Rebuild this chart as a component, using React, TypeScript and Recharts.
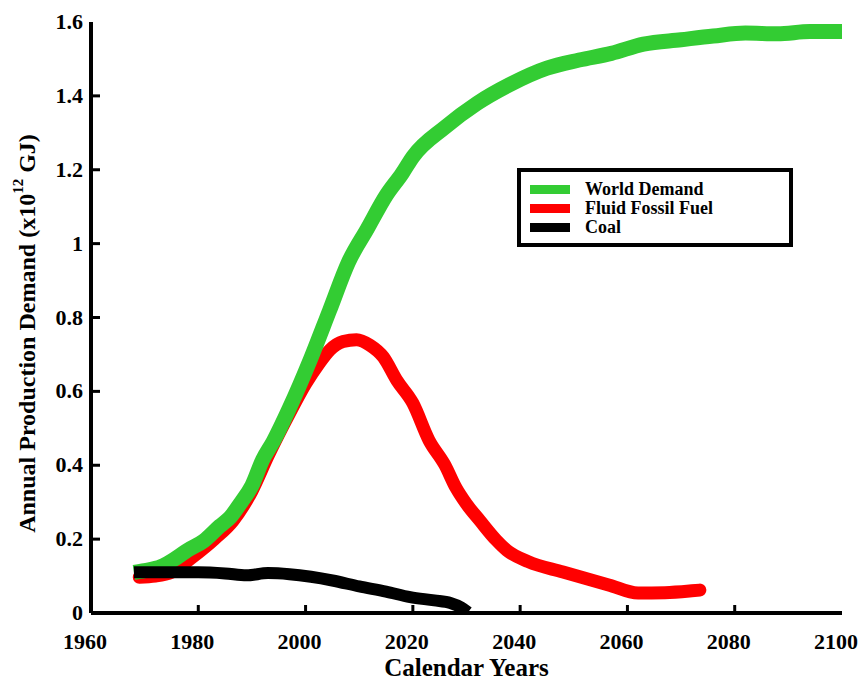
import React from "react";
import { LineChart, Line, XAxis, YAxis, Legend } from "recharts";

const demandYears = [1968, 1970, 1973, 1976, 1978, 1981, 1984, 1986, 1988, 1990, 1992, 1994, 1997, 2001, 2004.5, 2008, 2011.5, 2015, 2018, 2020, 2026, 2032, 2038, 2045, 2051, 2057, 2063, 2070, 2076, 2082, 2088, 2094, 2100];
const demandValues = [0.11, 0.115, 0.125, 0.15, 0.17, 0.195, 0.235, 0.26, 0.3, 0.345, 0.415, 0.465, 0.555, 0.69, 0.82, 0.95, 1.04, 1.13, 1.19, 1.235, 1.315, 1.38, 1.43, 1.475, 1.497, 1.515, 1.54, 1.552, 1.562, 1.57, 1.568, 1.574, 1.574];

const fluidYears = [1969, 1972, 1975, 1979, 1983, 1986.5, 1990, 1993, 1997, 2000, 2002.5, 2004.5, 2007, 2009.5, 2012, 2014.5, 2017, 2020, 2023, 2026, 2028, 2030, 2032.5, 2035.5, 2037.5, 2041.5, 2048, 2056.5, 2062, 2067, 2072, 2073.5];
const fluidValues = [0.097, 0.1, 0.11, 0.152, 0.2, 0.25, 0.33, 0.425, 0.54, 0.62, 0.675, 0.712, 0.735, 0.74, 0.725, 0.693, 0.63, 0.568, 0.468, 0.4, 0.34, 0.295, 0.25, 0.198, 0.17, 0.139, 0.111, 0.076, 0.054, 0.055, 0.06, 0.062];

const coalYears = [1968, 1975, 1980, 1985, 1989, 1993, 1997, 2001, 2005, 2010, 2015, 2019.5, 2024, 2027, 2029, 2030.3];
const coalValues = [0.11, 0.11, 0.11, 0.107, 0.102, 0.108, 0.105, 0.098, 0.088, 0.072, 0.058, 0.043, 0.034, 0.027, 0.015, 0.002];

const xTicks = [1960, 1980, 2000, 2020, 2040, 2060, 2080, 2100];
const yTicks = [0, 0.2, 0.4, 0.6, 0.8, 1, 1.2, 1.4, 1.6];

const seriesNames = ["World Demand", "Fluid Fossil Fuel", "Coal"];
const seriesColors = ["#33cc33", "#ff0000", "#000000"];

const toData = (years: number[], values: number[]) =>
  years.map((year, i) => ({ year, value: values[i] }));

const demandData = toData(demandYears, demandValues);
const fluidData = toData(fluidYears, fluidValues);
const coalData = toData(coalYears, coalValues);

const FONT = "'Liberation Serif', 'Times New Roman', serif";

const BottomTick = (props: any) => {
  const { x, y, payload } = props;
  return (
    <g>
      {payload.value !== 1960 && payload.value !== 2100 && (
        <line x1={x} y1={y} x2={x} y2={y - 8} stroke="#000" strokeWidth={3} />
      )}
      <text x={x - 6} y={y + 36} textAnchor="middle" fontFamily={FONT} fontWeight="bold" fontSize={22} fill="#000">
        {payload.value}
      </text>
    </g>
  );
};

const TopTick = (props: any) => {
  const { x, y, payload } = props;
  if (payload.value === 1960 || payload.value === 2100) return <g />;
  return <line x1={x} y1={y} x2={x} y2={y + 8} stroke="#000" strokeWidth={3} />;
};

const LeftTick = (props: any) => {
  const { x, y, payload } = props;
  return (
    <g>
      {payload.value !== 0 && payload.value !== 1.6 && (
        <line x1={x} y1={y} x2={x + 9} y2={y} stroke="#000" strokeWidth={3} />
      )}
      <text x={x - 8} y={y + 7} textAnchor="end" fontFamily={FONT} fontWeight="bold" fontSize={22} fill="#000">
        {String(payload.value)}
      </text>
    </g>
  );
};

const RightTick = (props: any) => {
  const { x, y, payload } = props;
  if (payload.value === 0 || payload.value === 1.6) return <g />;
  return <line x1={x} y1={y} x2={x - 9} y2={y} stroke="#000" strokeWidth={3} />;
};

const YLabel = (props: any) => {
  const { viewBox } = props;
  const cx = viewBox.x + 27;
  const cy = viewBox.y + viewBox.height / 2 + 16;
  return (
    <text
      x={cx}
      y={cy}
      transform={`rotate(-90 ${cx} ${cy})`}
      textAnchor="middle"
      dominantBaseline="central"
      fontFamily={FONT}
      fontWeight="bold"
      fontSize={24}
      fill="#000"
    >
      <tspan>Annual Production Demand (x10</tspan>
      <tspan fontSize={15} dy={-9}>12</tspan>
      <tspan dy={9}> GJ)</tspan>
    </text>
  );
};

const XLabel = (props: any) => {
  const { viewBox } = props;
  return (
    <text
      x={viewBox.x + viewBox.width / 2}
      y={viewBox.y + 63}
      textAnchor="middle"
      fontFamily={FONT}
      fontWeight="bold"
      fontSize={25}
      fill="#000"
    >
      Calendar Years
    </text>
  );
};

const LegendBox = () => (
  <div
    style={{
      boxSizing: "border-box",
      width: 276,
      height: 79,
      border: "4px solid #000",
      background: "#fff",
      paddingTop: 8,
      fontFamily: FONT,
      fontWeight: "bold",
      fontSize: 18,
      color: "#000",
      textAlign: "left",
    }}
  >
    {seriesNames.map((name, i) => (
      <div key={name} style={{ display: "flex", alignItems: "center", height: 19, lineHeight: "19px" }}>
        <div style={{ width: 40, height: 9, background: seriesColors[i], marginLeft: 9, marginRight: 15 }} />
        <span>{name}</span>
      </div>
    ))}
  </div>
);

export default function App() {
  return (
    <div style={{ position: "absolute", left: 0, top: 0, background: "#fff" }}>
      <LineChart width={858} height={684} margin={{ top: 22, right: 16, left: 0, bottom: 0 }}>
        <XAxis
          dataKey="year"
          type="number"
          domain={[1960, 2100]}
          ticks={xTicks}
          allowDataOverflow
          height={71}
          tickSize={0}
          tickMargin={0}
          tickLine={false}
          axisLine={{ stroke: "#000", strokeWidth: 4 }}
          tick={<BottomTick />}
          interval={0}
          label={<XLabel />}
        />
        <XAxis
          xAxisId="top"
          orientation="top"
          dataKey="year"
          type="number"
          domain={[1960, 2100]}
          ticks={xTicks}
          allowDataOverflow
          height={0}
          tickSize={0}
          tickMargin={0}
          tickLine={false}
          axisLine={{ stroke: "#000", strokeWidth: 4 }}
          tick={<TopTick />}
          interval={0}
        />
        <YAxis
          type="number"
          domain={[0, 1.6]}
          ticks={yTicks}
          allowDataOverflow
          width={91}
          tickSize={0}
          tickMargin={0}
          tickLine={false}
          axisLine={{ stroke: "#000", strokeWidth: 4 }}
          tick={<LeftTick />}
          interval={0}
          label={<YLabel />}
        />
        <YAxis
          yAxisId="right"
          orientation="right"
          type="number"
          domain={[0, 1.6]}
          ticks={yTicks}
          allowDataOverflow
          width={0}
          tickSize={0}
          tickMargin={0}
          tickLine={false}
          axisLine={{ stroke: "#000", strokeWidth: 4 }}
          tick={<RightTick />}
          interval={0}
        />
        <Legend
          layout="horizontal"
          verticalAlign="middle"
          align="center"
          content={<LegendBox />}
          wrapperStyle={{ position: "absolute", left: 517, top: 168, width: 276, height: 79 }}
        />
        <Line
          data={fluidData}
          dataKey="value"
          name={seriesNames[1]}
          type="monotone"
          stroke={seriesColors[1]}
          strokeWidth={13}
          strokeLinecap="round"
          strokeLinejoin="round"
          dot={false}
          activeDot={false}
          isAnimationActive={false}
        />
        <Line
          data={demandData}
          dataKey="value"
          name={seriesNames[0]}
          type="monotone"
          stroke={seriesColors[0]}
          strokeWidth={15}
          strokeLinejoin="round"
          dot={false}
          activeDot={false}
          isAnimationActive={false}
        />
        <Line
          data={coalData}
          dataKey="value"
          name={seriesNames[2]}
          type="monotone"
          stroke={seriesColors[2]}
          strokeWidth={12}
          strokeLinejoin="round"
          dot={false}
          activeDot={false}
          isAnimationActive={false}
        />
      </LineChart>
    </div>
  );
}
